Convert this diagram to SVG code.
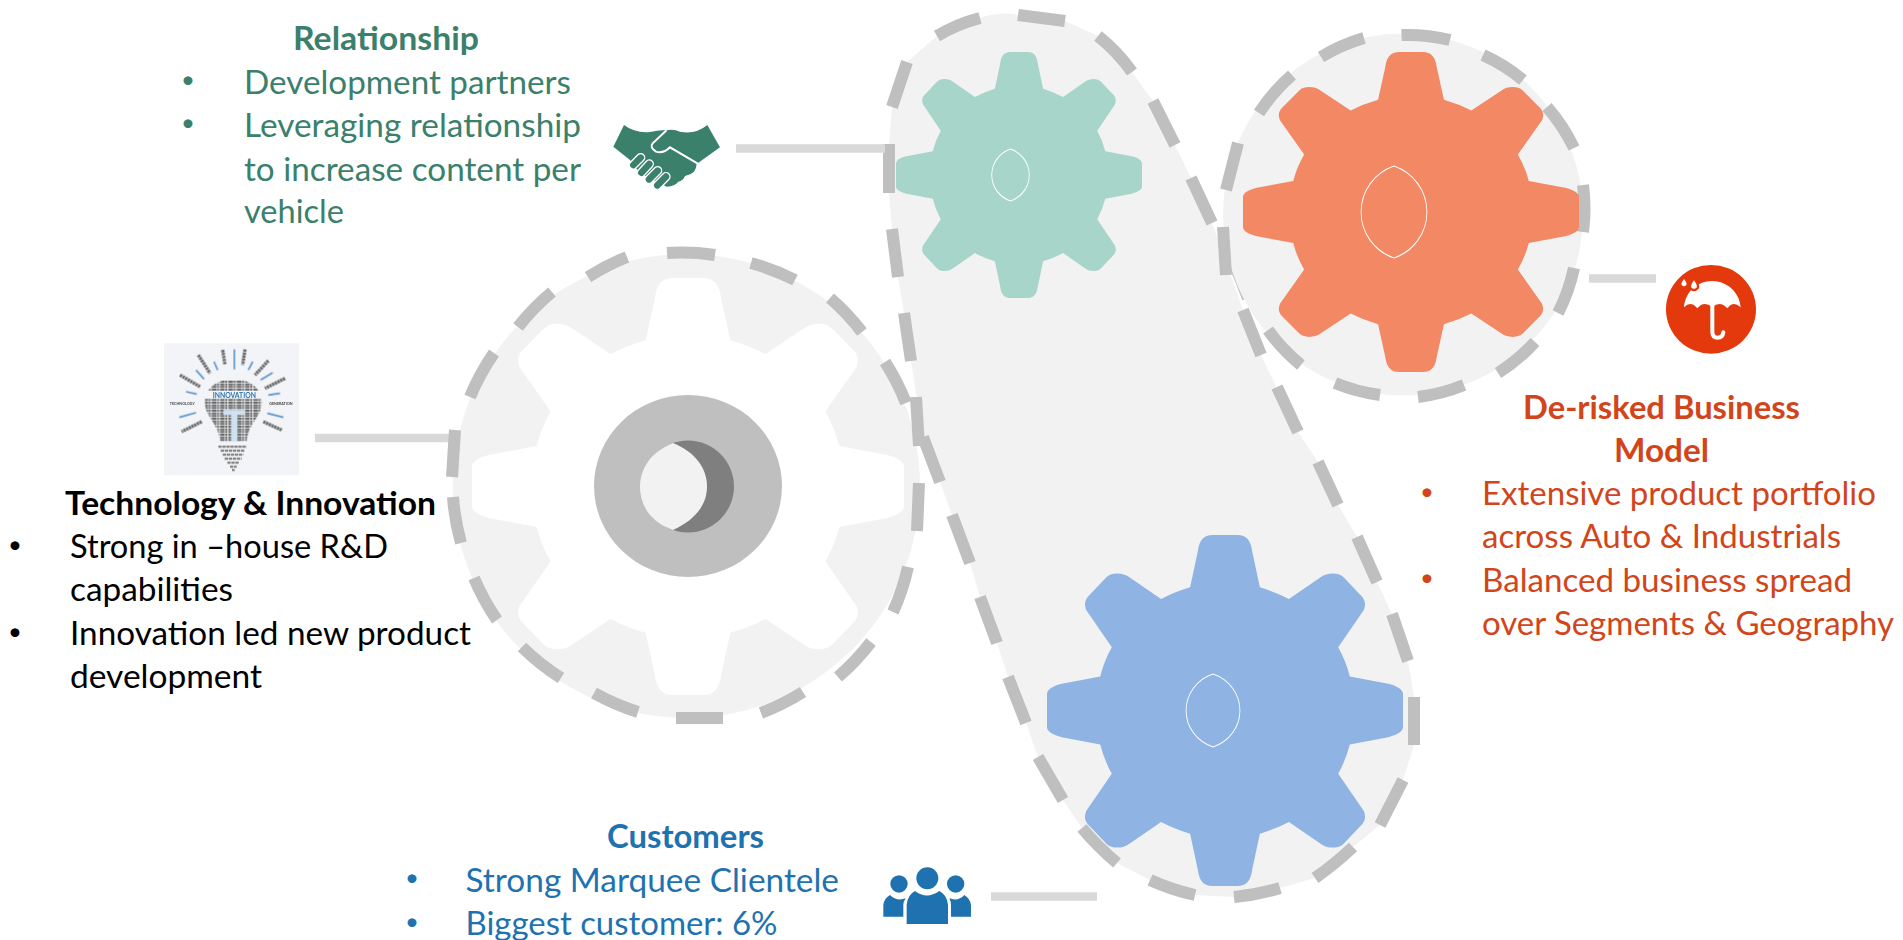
<svg xmlns="http://www.w3.org/2000/svg" width="1903" height="940" viewBox="0 0 1903 940">
<style>
text{font-family:Lato,"Open Sans","Liberation Sans",sans-serif;font-size:33px}
text.dot{font-size:24px;text-anchor:middle}
.b{font-weight:700}
.green{fill:#3b806b}.black{fill:#000}.blue{fill:#1f72b0}.red{fill:#d2451a}
.plate{fill:#f2f2f2}
.dash{fill:none;stroke:#bfbfbf;stroke-width:12}
.link{stroke:#d9d9d9;stroke-width:8.5;fill:none}
.lens{fill:none;stroke:#fff}
</style>
<defs>
<path id="gear" d="M-7,-100 L7,-100 C12,-100 14.5,-97 15.3,-90.6 L19.6,-70.2 Q28.5,-67.5 35.9,-63.5 L53.9,-76 C57,-78.5 63.5,-79 66.5,-76 L77.3,-64.6 C79,-62 79,-60 78,-57.3 L63.6,-36 Q68,-28 70.1,-19.4 L91.7,-15.2 C96.5,-14 100,-12 100,-9.4 L100,9.4 C100,12 96.5,14 91.7,15.2 L70.1,19.4 Q68,28 63.6,36 L78,57.3 C79,60 79,62 77.3,64.6 L66.5,76 C63.5,79 57,78.5 53.9,76 L35.9,63.5 Q28.5,67.5 19.6,70.2 L15.3,90.6 C14.5,97 12,100 7,100 L-7,100 C-12,100 -14.5,97 -15.3,90.6 L-19.6,70.2 Q-28.5,67.5 -35.9,63.5 L-53.9,76 C-57,78.5 -63.5,79 -66.5,76 L-77.3,64.6 C-79,62 -79,60 -78,57.3 L-63.6,36 Q-68,28 -70.1,19.4 L-91.7,15.2 C-96.5,14 -100,12 -100,9.4 L-100,-9.4 C-100,-12 -96.5,-14 -91.7,-15.2 L-70.1,-19.4 Q-68,-28 -63.6,-36 L-78,-57.3 C-79,-60 -79,-62 -77.3,-64.6 L-66.5,-76 C-63.5,-79 -57,-78.5 -53.9,-76 L-35.9,-63.5 Q-28.5,-67.5 -19.6,-70.2 L-15.3,-90.6 C-14.5,-97 -12,-100 -7,-100Z"/>
<path id="lens" d="M0,-1 A1.47 1.056 0 0 1 0,1 A1.47 1.056 0 0 1 0,-1Z"/>
<clipPath id="bulb"><path d="M250,148 C190,148 160,185 165,225 C170,265 205,280 210,335 L290,335 C295,280 330,265 335,225 C340,185 310,148 250,148Z"/></clipPath>
<filter id="soft" x="-5%" y="-5%" width="110%" height="110%"><feGaussianBlur stdDeviation="1.500"/></filter>
</defs>

<g id="pill-plate">
<path class="plate" d="M980,18 Q1000,11 1018,15 L1065,21 L1098,36 L1132,72 L1153,101 L1175,145 L1191,178 L1212,223 L1243,310 L1261,355 L1298,432 L1318,462 L1338,505 L1357,537 L1377,582 L1392,614 L1408,661 L1414,697 L1414,745 L1403,780 L1380,825 L1353,847 L1315,878 L1280,888 L1234,897 L1195,895 L1150,880 L1117,863 L1082,828 L1063,800 L1038,757 L1026,723 L1008,677 L997,643 L980,597 L970,563 L952,515 L940,482 L923,437 L911,361 L904,313 L898,277 L892,229 L889,193 L889,144 L892,107 L907,62 L937,36Z"/>
<path class="dash" d="M1018,15 L1065,21 M1098,36 Q1118,52 1132,72 M1153,101 L1175,145 M1191,178 L1212,223 M1233,260 L1248,298 M1243,310 L1261,355 M1277,387 L1298,432 M1318,462 L1338,505 M1357,537 L1377,582 M1392,614 L1408,661 M1414,697 L1414,745 M1403,780 L1380,825 M1353,847 Q1335,864 1315,878 M1280,888 Q1257,895 1234,897 M1195,895 Q1172,890 1150,880 M1117,863 Q1098,847 1082,828 M1063,800 L1038,757 M1026,723 L1008,677 M997,643 L980,597 M970,563 L952,515 M940,482 L923,437 M911,361 L904,313 M898,277 L892,229 M889,193 L889,144 M892,107 L907,62 M937,36 Q957,24 980,18"/>
</g>

<g id="connectors">
<path class="link" d="M736,148.500 H885"/>
<path class="link" d="M315,438 H451"/>
<path class="link" d="M1589,278.500 H1656"/>
<path class="link" d="M991,896.500 H1097"/>
</g>

<g id="gear-technology">
<ellipse class="plate" cx="686.500" cy="486" rx="233.500" ry="232"/>
<path class="dash" d="M667,253 A235 233 0 0 1 715,255 M751,263 A235 233 0 0 1 795,280 M830,298 A235 233 0 0 1 862,332 M885,362 A235 233 0 0 1 906,403 M916,397 L919,446 M919,483 L917,531 M908,567 A235 233 0 0 1 893,612 M871,642 A235 233 0 0 1 838,677 M803,692 A235 233 0 0 1 761,713 M723,718 L676,718 M638,712 A235 233 0 0 1 594,693 M561,678 A235 233 0 0 1 522,647 M497,620 A235 233 0 0 1 474,578 M461,543 A235 233 0 0 1 453,497 M452,477 L455,430 M470,397 A235 233 0 0 1 494,353 M518,327 A235 233 0 0 1 552,292 M588,277 A235 233 0 0 1 627,257"/>
<use href="#gear" transform="translate(688 486.500) scale(2.16 2.085)" fill="#fff"/>
<ellipse cx="688" cy="486" rx="94" ry="91" fill="#bfbfbf"/>
<circle cx="688" cy="486.500" r="46" fill="#7f7f7f"/>
<path fill="#f2f2f2" d="M673,443 C650,452 640,470 640,486.500 C640,505 650,522 673,530 C695,520 707,505 707,486.500 C707,468 695,452 673,443Z"/>
</g>

<g id="gear-relationship">
<use href="#gear" transform="translate(1019 175) scale(1.23)" fill="#a7d5c9"/>
<use href="#lens" class="lens" transform="translate(1010.500 175) scale(18.800 26)" style="stroke-width:.045"/>
</g>

<g id="gear-customers">
<use href="#gear" transform="translate(1225 710.500) scale(1.78 1.755)" fill="#8fb4e3"/>
<use href="#lens" class="lens" transform="translate(1213 710.500) scale(27 36.500)" style="stroke-width:.032"/>
</g>

<g id="gear-derisked">
<ellipse class="plate" cx="1403" cy="214.500" rx="180" ry="181"/>
<path class="dash" d="M1401.500,35 A180 181 0 0 1 1450,40 M1483,55 A180 181 0 0 1 1523,80 M1547,107 A180 181 0 0 1 1574,148 M1583,185 A180 181 0 0 1 1583,232 M1574,268 A180 181 0 0 1 1558,313 M1535,342 A180 181 0 0 1 1498,373 M1464,385 A180 181 0 0 1 1418,397 M1380,395 A180 181 0 0 1 1335,383 M1301,365 A180 181 0 0 1 1268,330 M1223,227 L1226,275 M1226,190 L1238,143 M1259,113 A180 181 0 0 1 1292,75 M1321,57 A180 181 0 0 1 1364,38"/>
<use href="#gear" transform="translate(1411 212) scale(1.68 1.6)" fill="#f38864"/>
<use href="#lens" class="lens" transform="translate(1394 212) scale(33 46)" style="stroke-width:.026"/>
</g>

<g id="relationship">
<g id="handshake" transform="translate(600 110) scale(.3333)">
<path fill="#3b806b" d="M72,45 Q105,70 150,66 Q175,60 205,60 Q225,58 240,65 Q285,75 322,45 L360,112 L290,162 Q290,172 282,185 Q272,195 255,198 Q250,212 235,215 Q225,228 200,230 L120,190 L90,150 L40,110Z"/>
<path fill="none" stroke="#fff" stroke-width="6" stroke-linecap="round" d="M198,62 L158,100 Q148,112 168,125 Q190,132 210,112 L292,160"/>
<g fill="none" stroke-linecap="round">
<path stroke="#fff" stroke-width="28" d="M100,165 L122,143 M124,188 L148,162 M147,208 L173,182 M172,226 L198,200"/>
<path stroke="#3b806b" stroke-width="20" d="M100,165 L122,143 M124,188 L148,162 M147,208 L173,182 M172,226 L198,200"/>
</g>
</g>
<text class="green b" x="293" y="50" textLength="186" lengthAdjust="spacingAndGlyphs">Relationship</text>
<text class="green dot" x="188" y="88">•</text>
<text class="green" x="244" y="94" textLength="327" lengthAdjust="spacingAndGlyphs">Development partners</text>
<text class="green dot" x="188" y="131">•</text>
<text class="green" x="244" y="137" textLength="337" lengthAdjust="spacingAndGlyphs">Leveraging relationship</text>
<text class="green" x="244" y="181" textLength="337" lengthAdjust="spacingAndGlyphs">to increase content per</text>
<text class="green" x="244" y="223" textLength="100" lengthAdjust="spacingAndGlyphs">vehicle</text>
</g>

<g id="technology">
<g id="bulb-picture" transform="translate(150 330) scale(.3333)">
<rect x="42" y="40" width="406" height="396" fill="#f2f4f7"/>
<g filter="url(#soft)">
<g fill="none" stroke="#5b95cf" stroke-width="5">
<path d="M253,58 L253,118 M308,95 L295,120 M368,128 L332,150 M390,190 L355,195 M400,262 L352,250 M138,120 L162,147 M192,95 L203,120 M108,185 L140,192 M88,262 L138,248"/>
</g>
<g fill="none" stroke="#666" stroke-width="10" stroke-dasharray="7 2">
<path d="M218,60 L225,105 M285,58 L278,105 M145,75 L180,130 M355,92 L315,135 M90,135 L150,170 M405,145 L345,175 M155,275 L95,305 M340,275 L395,300"/>
</g>
<g clip-path="url(#bulb)">
<path fill="none" stroke="#666" stroke-width="6" stroke-dasharray="14 2 6 3" d="M160,155 H340 M160,163 H340 M160,171 H340 M160,179 H340 M160,210 H340 M160,218 H340 M160,226 H340 M160,234 H340 M160,242 H340 M160,250 H340 M160,258 H340 M160,266 H340 M160,274 H340 M160,282 H340 M160,290 H340 M160,298 H340 M160,306 H340 M160,314 H340 M160,322 H340 M160,330 H340"/>
<path fill="#cfe0f0" d="M220,240 H285 V255 H262 V335 H243 V255 H220Z"/>
</g>
<path fill="none" stroke="#666" stroke-width="5" stroke-dasharray="10 2" d="M205,350 H290 M212,362 H285 M218,374 H280 M224,386 H275 M232,398 H268 M240,410 H260 M246,420 H254"/>
</g>
<text x="253" y="205" text-anchor="middle" style="font-size:24px;font-weight:700;fill:#2f74b5" textLength="130" lengthAdjust="spacingAndGlyphs">INNOVATION</text>
<text x="97" y="225" text-anchor="middle" style="font-size:11px;font-weight:700;fill:#444" textLength="75" lengthAdjust="spacingAndGlyphs">TECHNOLOGY</text>
<text x="393" y="225" text-anchor="middle" style="font-size:11px;font-weight:700;fill:#444" textLength="70" lengthAdjust="spacingAndGlyphs">GENERATION</text>
</g>
<text class="black b" x="65" y="515" textLength="371" lengthAdjust="spacingAndGlyphs">Technology &amp; Innovation</text>
<text class="black dot" x="15" y="553">•</text>
<text class="black" x="70" y="558" textLength="318" lengthAdjust="spacingAndGlyphs">Strong in –house R&amp;D</text>
<text class="black" x="70" y="601" textLength="163" lengthAdjust="spacingAndGlyphs">capabilities</text>
<text class="black dot" x="15" y="640">•</text>
<text class="black" x="70" y="645" textLength="401" lengthAdjust="spacingAndGlyphs">Innovation led new product</text>
<text class="black" x="70" y="688" textLength="192" lengthAdjust="spacingAndGlyphs">development</text>
</g>

<g id="customers">
<g id="people" transform="translate(870 855) scale(.3333)" fill="#1f72b0">
<circle cx="172" cy="70" r="33"/>
<path d="M110,207 L110,150 Q112,120 135,108 Q170,135 208,108 Q232,120 234,150 L234,207Z"/>
<circle cx="87" cy="87" r="26"/>
<path d="M40,185 L40,150 Q42,130 60,120 Q80,140 107,130 Q100,140 100,150 L100,185Z"/>
<circle cx="257" cy="87" r="26"/>
<path d="M303,185 L303,150 Q300,130 283,120 Q265,140 238,130 Q243,140 243,150 L243,185Z"/>
</g>
<text class="blue b" x="607" y="848" textLength="157" lengthAdjust="spacingAndGlyphs">Customers</text>
<text class="blue dot" x="412" y="886">•</text>
<text class="blue" x="465.500" y="892" textLength="373.500" lengthAdjust="spacingAndGlyphs">Strong Marquee Clientele</text>
<text class="blue dot" x="412" y="930">•</text>
<text class="blue" x="465.500" y="935" textLength="312" lengthAdjust="spacingAndGlyphs">Biggest customer: 6%</text>
</g>

<g id="derisked">
<g id="umbrella" transform="translate(1650 255) scale(.3333)">
<ellipse cx="183" cy="163" rx="135" ry="133" fill="#e3390c"/>
<path fill="#fff" d="M187,78 C130,80 105,120 102,157 Q122,135 142,160 Q162,135 187,157 Q210,135 232,160 Q250,135 272,157 C270,120 240,80 187,78Z"/>
<path fill="none" stroke="#fff" stroke-width="12" stroke-linecap="round" d="M187,150 V230 Q187,248 203,248 Q218,248 220,232"/>
<path fill="#fff" d="M102,72 Q112,84 109,90 Q102,98 95,90 Q92,84 102,72Z"/>
<path fill="#fff" stroke="#e3390c" stroke-width="7" d="M132,70 Q146,88 144,98 Q132,112 120,98 Q118,88 132,70Z"/>
</g>
<text class="red b" x="1523" y="419" textLength="277" lengthAdjust="spacingAndGlyphs">De-risked Business</text>
<text class="red b" x="1614" y="462" textLength="95" lengthAdjust="spacingAndGlyphs">Model</text>
<text class="red dot" x="1427" y="500">•</text>
<text class="red" x="1482" y="505" textLength="394" lengthAdjust="spacingAndGlyphs">Extensive product portfolio</text>
<text class="red" x="1482" y="548" textLength="359" lengthAdjust="spacingAndGlyphs">across Auto &amp; Industrials</text>
<text class="red dot" x="1427" y="586">•</text>
<text class="red" x="1482" y="592" textLength="370" lengthAdjust="spacingAndGlyphs">Balanced business spread</text>
<text class="red" x="1482" y="635" textLength="412" lengthAdjust="spacingAndGlyphs">over Segments &amp; Geography</text>
</g>
</svg>
